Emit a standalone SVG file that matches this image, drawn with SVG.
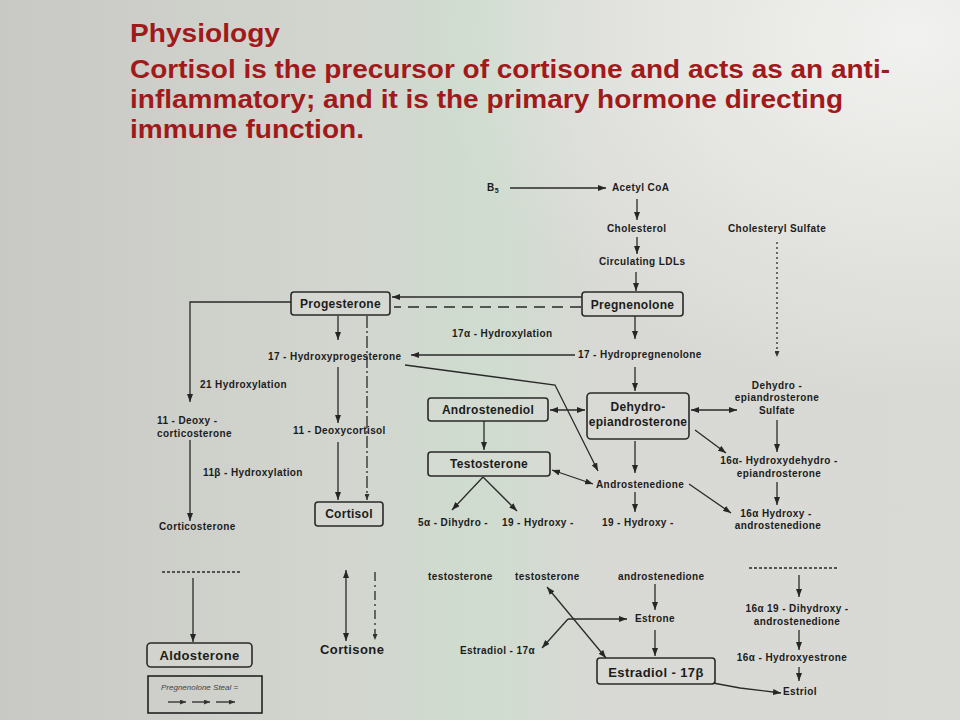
<svg xmlns="http://www.w3.org/2000/svg" width="960" height="720" viewBox="0 0 960 720">
<defs>
  <linearGradient id="bg" x1="0" y1="0" x2="1" y2="0">
    <stop offset="0" stop-color="#c8c9c4"/>
    <stop offset="0.35" stop-color="#d3d5cf"/>
    <stop offset="0.5" stop-color="#cfdccf"/>
    <stop offset="0.62" stop-color="#d8d9d4"/>
    <stop offset="1" stop-color="#d9d9d5"/>
  </linearGradient>
  <radialGradient id="glow" cx="0.95" cy="0.05" r="0.5">
    <stop offset="0" stop-color="#f4f4f2" stop-opacity="0.9"/>
    <stop offset="1" stop-color="#f4f4f2" stop-opacity="0"/>
  </radialGradient>
  <marker id="ah" viewBox="0 0 8 6" refX="8" refY="3" markerWidth="8" markerHeight="6" markerUnits="userSpaceOnUse" orient="auto-start-reverse">
    <path d="M0,0 L8,3 L0,6 z" fill="#262626"/>
  </marker>
  <marker id="ahs" viewBox="0 0 6 5" refX="6" refY="2.5" markerWidth="6" markerHeight="5" markerUnits="userSpaceOnUse" orient="auto-start-reverse">
    <path d="M0,0 L6,2.5 L0,5 z" fill="#333"/>
  </marker>
</defs>
<style>
  .title{font-family:"Liberation Sans",Arial,sans-serif;font-weight:bold;font-size:26px;fill:#a01a1c}
  .lbl{font-family:"Liberation Sans",Arial,sans-serif;font-weight:bold;font-size:10px;letter-spacing:0.4px;fill:#1c1c1c}
  .bx{font-family:"Liberation Sans",Arial,sans-serif;font-weight:bold;font-size:12px;letter-spacing:0.3px;fill:#1c1c1c}
  .big{font-family:"Liberation Sans",Arial,sans-serif;font-weight:bold;font-size:13px;letter-spacing:0.4px;fill:#1c1c1c}
  .box{fill:#dcdcd6;fill-opacity:0.35;stroke:#2a2a2a;stroke-width:1.6}
  .c{fill:none;stroke:#2a2a2a;stroke-width:1.3}
  .mid{text-anchor:middle}
</style>
<rect width="960" height="720" fill="url(#bg)"/>
<rect width="960" height="720" fill="url(#glow)"/>

<g id="title">
  <text class="title" x="130" y="42" textLength="150" lengthAdjust="spacingAndGlyphs">Physiology</text>
  <text class="title" x="130" y="78" textLength="760" lengthAdjust="spacingAndGlyphs">Cortisol is the precursor of cortisone and acts as an anti-</text>
  <text class="title" x="130" y="108" textLength="713" lengthAdjust="spacingAndGlyphs">inflammatory; and it is the primary hormone directing</text>
  <text class="title" x="130" y="138" textLength="234" lengthAdjust="spacingAndGlyphs">immune function.</text>
</g>

<g id="connectors">
  <line class="c" x1="510" y1="188" x2="606" y2="188" marker-end="url(#ah)"/>
  <line class="c" x1="637" y1="199" x2="637" y2="220" marker-end="url(#ah)"/>
  <line class="c" x1="637" y1="237" x2="637" y2="254" marker-end="url(#ah)"/>
  <line class="c" x1="636" y1="272" x2="636" y2="291" marker-end="url(#ah)"/>
  <line class="c" x1="582" y1="297" x2="392" y2="297" marker-end="url(#ah)"/>
  <line class="c" x1="581" y1="307" x2="394" y2="307" stroke-dasharray="11 7"/>
  <path class="c" d="M291,302 H190 V402" marker-end="url(#ah)"/>
  <line class="c" x1="338" y1="316" x2="338" y2="340" marker-end="url(#ah)"/>
  <line class="c" x1="367" y1="316" x2="367" y2="500" stroke-dasharray="12 3 2 3" marker-end="url(#ahs)"/>
  <line class="c" x1="338" y1="367" x2="338" y2="423" marker-end="url(#ah)"/>
  <line class="c" x1="338" y1="442" x2="338" y2="500" marker-end="url(#ah)"/>
  <line class="c" x1="190" y1="440" x2="190" y2="521" marker-end="url(#ah)"/>
  <line class="c" x1="162" y1="572" x2="242" y2="572" stroke-dasharray="3 2"/>
  <line class="c" x1="193" y1="578" x2="193" y2="642" marker-end="url(#ah)"/>
  <line class="c" x1="346" y1="570" x2="346" y2="641" marker-start="url(#ah)" marker-end="url(#ah)"/>
  <line class="c" x1="375" y1="572" x2="375" y2="640" stroke-dasharray="9 4 2 4" marker-end="url(#ahs)"/>
  <line class="c" x1="575" y1="355" x2="411" y2="355" marker-end="url(#ah)"/>
  <line class="c" x1="635" y1="316" x2="635" y2="339" marker-end="url(#ah)"/>
  <line class="c" x1="635" y1="367" x2="635" y2="391" marker-end="url(#ah)"/>
  <line class="c" x1="550" y1="410" x2="585" y2="410" marker-start="url(#ah)" marker-end="url(#ah)"/>
  <line class="c" x1="691" y1="410" x2="737" y2="410" marker-start="url(#ah)" marker-end="url(#ah)"/>
  <line class="c" x1="777" y1="242" x2="777" y2="357" stroke-dasharray="2 3" marker-end="url(#ahs)"/>
  <line class="c" x1="777" y1="420" x2="777" y2="452" marker-end="url(#ah)"/>
  <line class="c" x1="777" y1="482" x2="777" y2="505" marker-end="url(#ah)"/>
  <line class="c" x1="695" y1="430" x2="726" y2="453" marker-end="url(#ah)"/>
  <line class="c" x1="689" y1="484" x2="731" y2="513" marker-end="url(#ah)"/>
  <path class="c" d="M405,365 L555,385 L598,471" marker-end="url(#ah)"/>
  <line class="c" x1="484" y1="421" x2="484" y2="450" marker-end="url(#ah)"/>
  <line class="c" x1="552" y1="470" x2="593" y2="484" marker-start="url(#ah)" marker-end="url(#ah)"/>
  <line class="c" x1="635" y1="441" x2="635" y2="473" marker-end="url(#ah)"/>
  <line class="c" x1="635" y1="492" x2="635" y2="512" marker-end="url(#ah)"/>
  <line class="c" x1="483" y1="477" x2="452" y2="510" marker-end="url(#ah)"/>
  <line class="c" x1="483" y1="477" x2="517" y2="511" marker-end="url(#ah)"/>
  <line class="c" x1="655" y1="584" x2="655" y2="610" marker-end="url(#ah)"/>
  <line class="c" x1="655" y1="630" x2="655" y2="656" marker-end="url(#ah)"/>
  <line class="c" x1="547" y1="587" x2="606" y2="658" marker-start="url(#ah)" marker-end="url(#ah)"/>
  <line class="c" x1="568" y1="619" x2="627" y2="619" marker-end="url(#ah)"/>
  <line class="c" x1="568" y1="619" x2="542" y2="648" marker-end="url(#ah)"/>
  <path class="c" d="M713,683 L740,688 L781,693" marker-end="url(#ah)"/>
  <line class="c" x1="749" y1="568" x2="838" y2="568" stroke-dasharray="3 2"/>
  <line class="c" x1="799" y1="575" x2="799" y2="597" marker-end="url(#ah)"/>
  <line class="c" x1="799" y1="630" x2="799" y2="650" marker-end="url(#ah)"/>
  <line class="c" x1="799" y1="667" x2="799" y2="681" marker-end="url(#ah)"/>
</g>

<g id="b5"><text class="lbl" x="487" y="191">B<tspan font-size="7" dy="2">5</tspan></text></g>
<g id="acetyl-coa"><text class="lbl" x="612" y="191">Acetyl CoA</text></g>
<g id="cholesterol"><text class="lbl" x="607" y="232">Cholesterol</text></g>
<g id="circulating-ldls"><text class="lbl" x="599" y="265">Circulating LDLs</text></g>
<g id="cholesteryl-sulfate"><text class="lbl" x="728" y="232">Cholesteryl Sulfate</text></g>

<g id="pregnenolone">
  <rect class="box" x="582" y="292" width="101" height="24" rx="3"/>
  <text class="bx mid" x="632.5" y="308.5">Pregnenolone</text>
</g>
<g id="progesterone">
  <rect class="box" x="291" y="292" width="99" height="23" rx="3"/>
  <text class="bx mid" x="340.5" y="308">Progesterone</text>
</g>
<g id="hydroxylation-17a"><text class="lbl" x="452" y="337">17α - Hydroxylation</text></g>
<g id="hydroxyprogesterone-17"><text class="lbl" x="268" y="360">17 - Hydroxyprogesterone</text></g>
<g id="hydropregnenolone-17"><text class="lbl" x="578" y="358">17 - Hydropregnenolone</text></g>
<g id="hydroxylation-21"><text class="lbl" x="200" y="388">21 Hydroxylation</text></g>
<g id="deoxycorticosterone-11">
  <text class="lbl" x="157" y="424">11 - Deoxy -</text>
  <text class="lbl" x="157" y="437">corticosterone</text>
</g>
<g id="deoxycortisol-11"><text class="lbl" x="293" y="434">11 - Deoxycortisol</text></g>
<g id="hydroxylation-11b"><text class="lbl" x="203" y="476">11β - Hydroxylation</text></g>
<g id="corticosterone"><text class="lbl" x="159" y="530">Corticosterone</text></g>
<g id="cortisol">
  <rect class="box" x="315" y="502" width="68" height="24" rx="3"/>
  <text class="bx mid" x="349" y="518">Cortisol</text>
</g>

<g id="androstenediol">
  <rect class="box" x="428" y="398" width="120" height="23" rx="3"/>
  <text class="bx mid" x="488" y="414">Androstenediol</text>
</g>
<g id="dehydroepiandrosterone">
  <rect class="box" x="587" y="393" width="102" height="46" rx="4"/>
  <text class="bx mid" x="638" y="411">Dehydro-</text>
  <text class="bx mid" x="638" y="426">epiandrosterone</text>
</g>
<g id="dhea-sulfate">
  <text class="lbl mid" x="777" y="389">Dehydro -</text>
  <text class="lbl mid" x="777" y="401">epiandrosterone</text>
  <text class="lbl mid" x="777" y="414">Sulfate</text>
</g>
<g id="hydroxydehydroepiandrosterone-16a">
  <text class="lbl mid" x="779" y="464">16α- Hydroxydehydro -</text>
  <text class="lbl mid" x="779" y="477">epiandrosterone</text>
</g>
<g id="hydroxyandrostenedione-16a">
  <text class="lbl mid" x="776" y="517">16α Hydroxy -</text>
  <text class="lbl mid" x="778" y="529">androstenedione</text>
</g>
<g id="testosterone">
  <rect class="box" x="428" y="452" width="122" height="24" rx="3"/>
  <text class="bx mid" x="489" y="468">Testosterone</text>
</g>
<g id="androstenedione"><text class="lbl" x="596" y="488">Androstenedione</text></g>
<g id="dihydro-5a"><text class="lbl" x="418" y="526">5α - Dihydro -</text></g>
<g id="hydroxy-19-t"><text class="lbl" x="502" y="526">19 - Hydroxy -</text></g>
<g id="hydroxy-19-a"><text class="lbl" x="602" y="526">19 - Hydroxy -</text></g>

<g id="testosterone-lower-1"><text class="lbl" x="428" y="580">testosterone</text></g>
<g id="testosterone-lower-2"><text class="lbl" x="515" y="580">testosterone</text></g>
<g id="androstenedione-lower"><text class="lbl" x="618" y="580">androstenedione</text></g>
<g id="estrone"><text class="lbl" x="635" y="622">Estrone</text></g>
<g id="estradiol-17a"><text class="lbl" x="460" y="654">Estradiol - 17α</text></g>
<g id="estradiol-17b">
  <rect class="box" x="597" y="658" width="118" height="26" rx="3"/>
  <text class="big mid" x="656" y="677">Estradiol - 17β</text>
</g>
<g id="estriol"><text class="lbl" x="783" y="695">Estriol</text></g>
<g id="dihydroxyandrostenedione">
  <text class="lbl mid" x="797" y="612">16α 19 - Dihydroxy -</text>
  <text class="lbl mid" x="797" y="625">androstenedione</text>
</g>
<g id="hydroxyestrone-16a"><text class="lbl mid" x="792" y="661">16α - Hydroxyestrone</text></g>

<g id="aldosterone">
  <rect class="box" x="147" y="643" width="105" height="24" rx="4"/>
  <text class="big mid" x="199.5" y="660">Aldosterone</text>
</g>
<g id="cortisone"><text class="big" x="320" y="654">Cortisone</text></g>

<g id="legend">
  <rect x="148" y="676" width="114" height="37" fill="none" stroke="#222" stroke-width="1.6"/>
  <text x="161" y="690" font-family="'Liberation Sans',Arial,sans-serif" font-style="italic" font-size="8" fill="#444">Pregnenolone Steal =</text>
  <line class="c" x1="168" y1="702" x2="186" y2="702" stroke-width="1" marker-end="url(#ahs)"/>
  <line class="c" x1="192" y1="702" x2="210" y2="702" stroke-width="1" marker-end="url(#ahs)"/>
  <line class="c" x1="216" y1="702" x2="235" y2="702" stroke-width="1" marker-end="url(#ahs)"/>
</g>
</svg>
